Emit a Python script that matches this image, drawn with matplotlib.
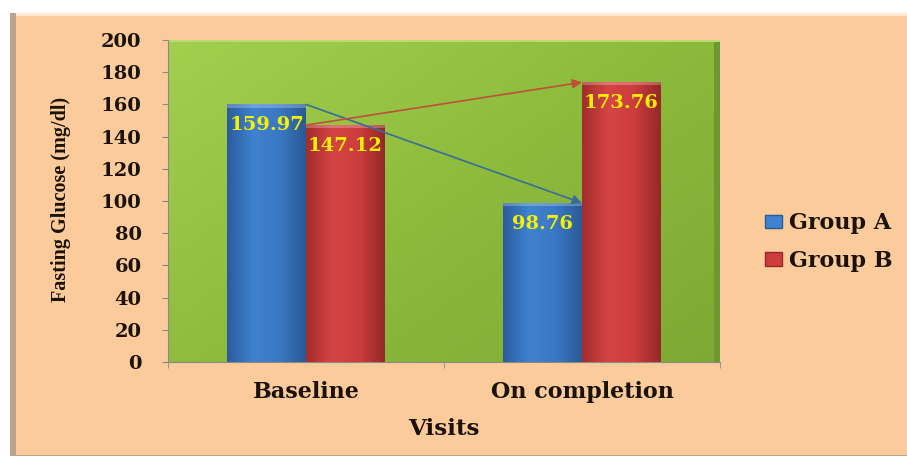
import numpy as np
import matplotlib.pyplot as plt
from matplotlib.patches import Rectangle, FancyArrowPatch
from matplotlib.colors import LinearSegmentedColormap

# Data
visits = ["Baseline", "On completion"]
groups = ["Group A", "Group B"]
group_a = [159.97, 98.76]
group_b = [147.12, 173.76]
y_ticks = [0, 20, 40, 60, 80, 100, 120, 140, 160, 180, 200]

WIDE = ["DejaVu Serif"]
NARROW = ["Liberation Serif", "DejaVu Serif"]
plt.rcParams["font.family"] = WIDE

fig = plt.figure(figsize=(9.07, 4.62), dpi=100)
fig.patch.set_facecolor("white")

# Peach chart-area panel with a soft shadow on the left edge
bg = fig.add_axes([0, 0, 1, 1], zorder=-10)
bg.set_xlim(0, 907)
bg.set_ylim(462, 0)
bg.axis("off")
bg.add_patch(Rectangle((10, 13), 897, 443, facecolor="#b9a58e", edgecolor="none"))
bg.add_patch(Rectangle((16, 14), 891, 441, facecolor="#fccb9c", edgecolor="none"))
bg.add_patch(Rectangle((16, 13), 891, 3, facecolor="#fde9cf", edgecolor="none"))

ax = fig.add_axes([168 / 907, 100 / 462, 552 / 907, 322 / 462])
ax.set_xlim(-0.5, 1.5)
ax.set_ylim(0, 200)

# Green plot wall with a gentle diagonal gradient
gx, gy = np.meshgrid(np.linspace(0, 1, 200), np.linspace(0, 1, 200))
wall = 0.55 * gx + 0.45 * (1 - gy)
green_cmap = LinearSegmentedColormap.from_list("wall", ["#a3cf4f", "#8dbb3c", "#7ea935"])
ax.imshow(wall, extent=(-0.5, 1.5, 0, 200), aspect="auto", cmap=green_cmap,
          origin="lower", zorder=0)
ax.add_patch(Rectangle((1.48, 0), 0.02, 200, facecolor="#6f9630", edgecolor="none", zorder=0.5))
ax.add_patch(Rectangle((-0.5, 198.5), 2.0, 1.5, facecolor="#b9dc70", edgecolor="none", zorder=0.5))

width = 0.286
x = np.arange(len(visits))

blue_cmap = LinearSegmentedColormap.from_list("b", ["#2b5d9c", "#3f82d0", "#3a78c4", "#2a5a96"])
red_cmap = LinearSegmentedColormap.from_list("r", ["#a22e2e", "#d54444", "#cc3d3d", "#952828"])

def shaded_bar(x0, h, cmap, face):
    bar = ax.bar(x0, h, width=width, align="edge", color=face, edgecolor="none", zorder=2)[0]
    grad = np.linspace(0, 1, 100).reshape(1, -1)
    im = ax.imshow(grad, extent=(x0, x0 + width, 0, h), aspect="auto", cmap=cmap, zorder=2.1)
    im.set_clip_path(bar)
    ax.add_patch(Rectangle((x0, h - 2.0), width, 2.0, facecolor="white", alpha=0.25,
                           edgecolor="none", zorder=2.2))
    return bar

for i in range(len(visits)):
    shaded_bar(x[i] - width, group_a[i], blue_cmap, "#3a78c4")
    shaded_bar(x[i], group_b[i], red_cmap, "#cc3d3d")

# Value labels just under each bar top
for i in range(len(visits)):
    for xc, v in ((x[i] - width / 2, group_a[i]), (x[i] + width / 2, group_b[i])):
        ax.text(xc, v - 13, f"{v:.2f}", ha="center", va="center", color="#f7f000",
                fontsize=14, fontweight="bold", zorder=4)

# Trend arrows between visits
for vals, col in ((group_a, "#3b6a9c"), (group_b, "#c0503a")):
    ax.add_patch(FancyArrowPatch((x[0], vals[0]), (x[1], vals[1]), arrowstyle="-|>",
                                 mutation_scale=14, color=col, lw=1.2, shrinkA=0,
                                 shrinkB=0, zorder=3))

# Axes styling
for s in ("top", "right"):
    ax.spines[s].set_visible(False)
ax.spines["left"].set_color("#8a8a80")
ax.spines["bottom"].set_color("#8a8a80")
ax.set_yticks(y_ticks)
ax.set_yticklabels([str(t) for t in y_ticks], fontsize=14, fontweight="bold")
ax.tick_params(axis="y", length=4, color="#8a8a80", pad=15, labelcolor="#1a1208")
ax.set_xticks([-0.5, 0.5, 1.5], minor=True)
ax.set_xticks(x)
ax.set_xticklabels(visits, fontsize=16, fontweight="bold", color="#1a1208")
ax.tick_params(axis="x", which="major", length=0, pad=14)
ax.tick_params(axis="x", which="minor", length=4, color="#8a8a80")
ax.set_xlabel("Visits", fontsize=16.5, fontweight="bold", color="#1a1208")
ax.xaxis.set_label_coords(0.5, -0.175)
ax.set_ylabel("Fasting Glucose (mg/dl)", fontsize=14.5, fontweight="bold", family=NARROW,
              color="#1a1208")
ax.yaxis.set_label_coords(-0.175, 0.505)

# Legend
handles = [Rectangle((0, 0), 1, 1, facecolor="#3f82d0", edgecolor="#2a5a96"),
           Rectangle((0, 0), 1, 1, facecolor="#cc3d3d", edgecolor="#952828")]
leg = fig.legend(handles, groups, loc="center left", bbox_to_anchor=(745 / 907, 1 - 242 / 462),
                 frameon=False, prop={"family": WIDE, "weight": "bold", "size": 16},
                 handlelength=0.75, handleheight=0.55, handletextpad=0.35, labelspacing=0.7)
for t in leg.get_texts():
    t.set_color("#1a1208")

fig.savefig("out.png", dpi=100)
